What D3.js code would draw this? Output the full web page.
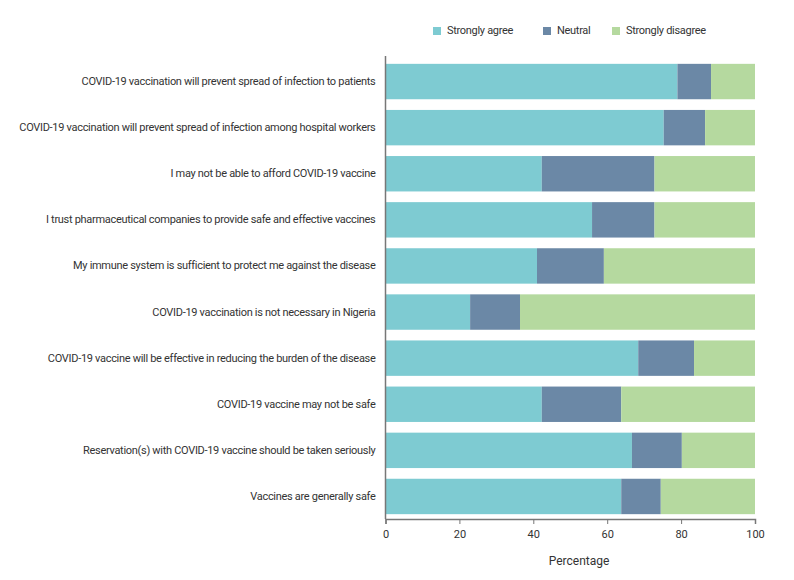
<!DOCTYPE html>
<html><head><meta charset="utf-8">
<script src="https://cdn.jsdelivr.net/npm/d3@7"></script>
<style>body{margin:0;background:#fff}svg{display:block}text{font-family:Roboto,"Liberation Sans",sans-serif;fill:#333}</style>
</head><body><svg id="c" width="794" height="580"></svg>
<script>
const categories = [
  "COVID-19 vaccination will prevent spread of infection to patients",
  "COVID-19 vaccination will prevent spread of infection among hospital workers",
  "I may not be able to afford COVID-19 vaccine",
  "I trust pharmaceutical companies to provide safe and effective vaccines",
  "My immune system is sufficient to protect me against the disease",
  "COVID-19 vaccination is not necessary in Nigeria",
  "COVID-19 vaccine will be effective in reducing the burden of the disease",
  "COVID-19 vaccine may not be safe",
  "Reservation(s) with COVID-19 vaccine should be taken seriously",
  "Vaccines are generally safe"
];
const seriesNames = ["Strongly agree", "Neutral", "Strongly disagree"];
const stronglyAgree    = [79.0, 75.3, 42.3, 55.9, 41.0, 22.9, 68.4, 42.3, 66.7, 63.8];
const neutral          = [ 9.1, 11.2, 30.5, 16.9, 18.1, 13.5, 15.1, 21.5, 13.5, 10.7];
const stronglyDisagree = [11.9, 13.5, 27.2, 27.2, 40.9, 63.6, 16.5, 36.2, 19.8, 25.5];
const xTicks = [0, 20, 40, 60, 80, 100];
const xLabel = "Percentage";
const colors = ["#7ecbd2", "#6b88a6", "#b5d99f"];

const svg = d3.select("#c");
const rows = categories.map((c, i) => ({cat: c, "Strongly agree": stronglyAgree[i], "Neutral": neutral[i], "Strongly disagree": stronglyDisagree[i]}));
const stack = d3.stack().keys(seriesNames)(rows);

const x = d3.scaleLinear().domain([0, 100]).range([385.5, 755]);
const y = d3.scaleBand().domain(categories).range([59, 519]).paddingInner(0.232).paddingOuter(0.105);
const color = d3.scaleOrdinal().domain(seriesNames).range(colors);

svg.append("g").selectAll("g").data(stack).join("g")
  .attr("fill", d => color(d.key))
  .selectAll("rect").data(d => d).join("rect")
  .attr("x", d => x(d[0])).attr("width", d => x(d[1]) - x(d[0]))
  .attr("y", d => y(d.data.cat)).attr("height", y.bandwidth());

// y axis
const ya = svg.append("g").attr("transform", "translate(385.5,0)")
  .call(d3.axisLeft(y).tickSize(0).tickPadding(10));
ya.select(".domain").attr("stroke", "#777").attr("stroke-width", 1.5).attr("d", "M0,56V519");
ya.selectAll("text").style("font-size", "11px").style("letter-spacing", "-0.3px").attr("fill", "#333");

// x axis
const xa = svg.append("g").attr("transform", "translate(0,519)")
  .call(d3.axisBottom(x).tickValues(xTicks).tickSize(5).tickPadding(6));
xa.select(".domain").attr("stroke", "#777").attr("stroke-width", 1.5);
xa.selectAll(".tick line").attr("stroke", "#777");
xa.selectAll("text").style("font-size", "11px").attr("fill", "#333");

svg.append("text").attr("x", 579).attr("y", 565).attr("text-anchor", "middle")
  .style("font-size", "12px").text(xLabel);

// legend
const legX = [433, 543, 612];
const leg = svg.append("g");
seriesNames.forEach((s, i) => {
  leg.append("rect").attr("x", legX[i]).attr("y", 27).attr("width", 8).attr("height", 8).attr("fill", colors[i]);
  leg.append("text").attr("x", legX[i] + 14).attr("y", 30).attr("dy", "0.35em")
    .style("font-size", "11px").style("letter-spacing", "-0.3px").text(s);
});
</script></body></html>
